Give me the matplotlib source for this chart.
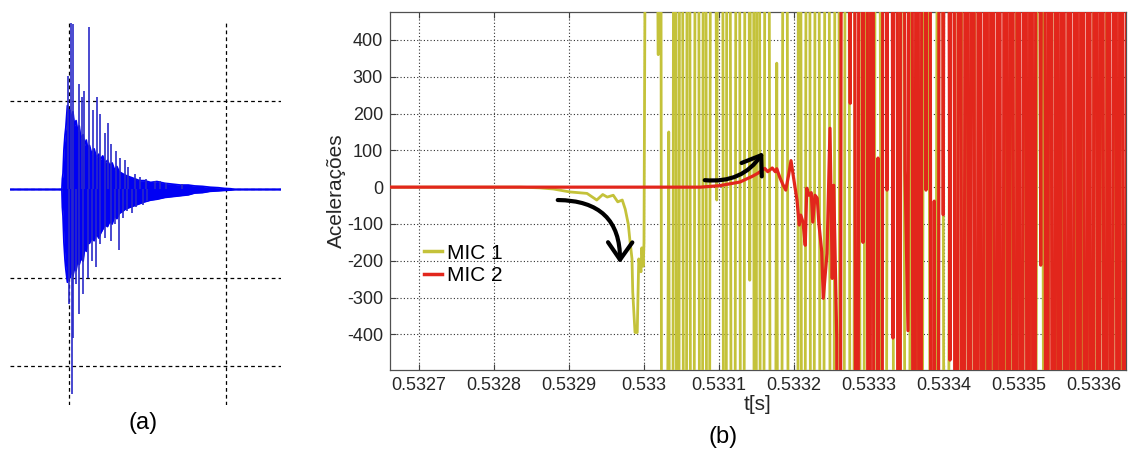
import matplotlib.pyplot as plt
import numpy as np

plt.rcParams['font.family'] = ['Liberation Sans', 'DejaVu Sans']

# ---- (a) free decay: envelope of the dense response and its isolated peaks
A_ENV_T = [0.62, 0.955, 0.958, 0.962, 0.968, 0.975, 0.98, 0.99, 1.0, 1.006, 1.015,
           1.025, 1.035, 1.045, 1.055, 1.065, 1.075, 1.09, 1.10, 1.11, 1.12, 1.13,
           1.145, 1.16, 1.175, 1.19, 1.20, 1.215, 1.23, 1.245, 1.26, 1.275, 1.29,
           1.305, 1.32, 1.34, 1.36, 1.39, 1.42, 1.45, 1.48, 1.52, 1.56, 1.61, 1.66,
           1.71, 1.76, 1.80, 1.85, 1.90, 1.95, 1.99, 2.03, 2.06, 2.36]
A_ENV_HI = [0, 0, 0.12, 0.18, 0.45, 0.62, 0.70, 0.95, 0.85, 0.90, 0.78,
            0.88, 0.72, 0.78, 0.66, 0.72, 0.58, 0.62, 0.50, 0.56, 0.45, 0.50,
            0.40, 0.46, 0.36, 0.40, 0.34, 0.38, 0.30, 0.33, 0.27, 0.30, 0.22,
            0.26, 0.20, 0.18, 0.16, 0.14, 0.12, 0.10, 0.10, 0.08, 0.09, 0.07, 0.06,
            0.05, 0.05, 0.04, 0.035, 0.025, 0.02, 0.012, 0.008, 0, 0]
A_ENV_LO = [0, 0, -0.20, -0.30, -0.60, -0.80, -0.90, -1.05, -0.95, -1.0, -0.90,
            -0.98, -0.88, -0.92, -0.80, -0.85, -0.78, -0.81, -0.65, -0.70, -0.60, -0.61,
            -0.55, -0.58, -0.50, -0.55, -0.50, -0.45, -0.40, -0.42, -0.36, -0.39, -0.30,
            -0.33, -0.27, -0.25, -0.22, -0.20, -0.18, -0.16, -0.14, -0.12, -0.11, -0.09, -0.08,
            -0.07, -0.06, -0.04, -0.035, -0.02, -0.015, -0.01, -0.006, 0, 0]

A_UP_T = [0.996, 1.011, 1.028, 1.064, 1.081, 1.096, 1.13, 1.151, 1.18, 1.20, 1.23,
          1.25, 1.27, 1.30, 1.325, 1.357, 1.378, 1.42, 1.45, 1.49, 1.55, 1.58, 1.62, 1.72]
A_UP_V = [1.28, 1.88, 1.87, 1.20, 1.05, 1.12, 1.84, 0.90, 1.05, 0.86, 0.64,
          0.75, 0.52, 0.44, 0.36, 0.33, 0.25, 0.18, 0.14, 0.12, 0.10, 0.10, 0.07, 0.06]
A_DN_T = [1.002, 1.017, 1.028, 1.045, 1.066, 1.09, 1.123, 1.145, 1.17, 1.197, 1.23,
          1.265, 1.29, 1.32, 1.346, 1.37, 1.40, 1.43, 1.47, 1.50]
A_DN_V = [-1.30, -2.32, -1.68, -1.07, -1.41, -1.18, -1.0, -0.81, -0.88, -0.62, -0.55,
          -0.58, -0.39, -0.69, -0.32, -0.24, -0.27, -0.20, -0.17, -0.13]

# ---- (b) accelerations, time in microseconds after T0
T0 = 0.5327
MIC1_US = [-39, 135, 161, 179, 201, 224, 237, 245, 251, 259, 265, 271, 275, 279,
           281, 284, 285, 288, 291, 293, 296, 297, 299, 300, 308, 319, 321, 325,
           333, 337, 341, 345, 349, 355, 359, 364, 371, 376, 381, 385, 391, 397,
           403, 408, 412, 419, 425, 431, 437, 441, 445, 448, 452, 457, 464, 471,
           477, 481, 488, 495, 504, 507, 512, 519, 524, 531, 537, 544, 551, 557,
           564, 571, 577, 584, 591, 597, 604, 611, 620, 628, 636, 643, 651, 659,
           668, 676, 685, 695, 703, 711, 719, 727, 736, 745, 753, 761, 769, 777,
           785, 793, 801, 811, 819, 828, 836, 844, 853, 861, 871, 879, 888, 896,
           904, 913, 921, 931, 939, 948]
MIC1_VAL = [0, 0, -2, -5, -13, -17, -35, -20, -27, -22, -40, -35, -60, -100,
            -140, -195, -285, -395, -395, -195, -230, -165, -215, -150, 4000, 360, 4000, -4000,
            150, -4000, 4000, -4000, 4000, -4000, 4000, -4000, 4000, -4000, 4000, -4000, 4000, -35,
            4000, -4000, 4000, -4000, 4000, -4000, 4000, -253, 4000, -4000, 4000, -4000, 4000, -4000,
            337, -4000, 4000, -4000, -4000, 4000, -4000, 4000, -4000, 4000, -4000, 4000, -4000, 4000,
            -4000, 4000, -4000, 4000, -4000, 4000, -4000, 4000, -4000, 4000, -4000, 4000, -4000, 4000,
            -4000, 4000, -4000, 4000, -4000, 4000, -4000, 4000, -4000, 4000, -4000, 4000, -4000, 4000,
            -4000, 4000, -4000, 4000, -4000, 4000, -4000, 4000, -4000, 4000, -4000, 4000, -4000, 4000,
            -4000, 4000, -4000, 4000, -4000, 4000]

MIC2_US = [-39, 375, 401, 428, 445, 452, 461, 465, 471, 475, 477, 481, 485, 489,
           493, 496, 500, 504, 507, 509, 512, 515, 517, 520, 523, 525, 528, 531,
           533, 537, 539, 544, 548, 551, 553, 557, 560, 565, 575, 579, 584, 588,
           592, 596, 600, 604, 608, 612, 616, 620, 624, 628, 632, 636, 640, 644,
           648, 652, 656, 660, 664, 668, 672, 676, 680, 684, 687, 691, 695, 699,
           703, 708, 712, 716, 721, 725, 730, 734, 738, 743, 747, 751, 756, 760,
           764, 769, 773, 777, 782, 786, 790, 795, 799, 803, 808, 812, 816, 820,
           824, 829, 833, 837, 841, 846, 850, 854, 858, 863, 867, 871, 876, 880,
           884, 889, 893, 897, 902, 906, 910, 915, 919, 923, 928, 932, 936, 941, 945]
MIC2_VAL = [0, 0, 4, 14, 30, 38, 51, 42, 52, 42, 50, 27, 8, -8,
            35, 72, 18, -35, -103, -76, -95, -158, -3, -22, -15, -95, -22, -30,
            -95, -176, -302, -180, 160, -248, 5, -410, -4000, 4000, 228, 4000, -4000, 4000,
            -150, 4000, -4000, 4000, -4000, 79, -4000, 4000, -8, 4000, -410, 4000, -4000, 4000,
            46, -390, 4000, -4000, 4000, -4000, 4000, -8, 4000, -4000, -38, -4000, 4000, -75,
            4000, -470, 4000, -4000, 4000, -4000, 4000, -4000, 4000, -4000, 4000, -4000, 4000, -4000,
            4000, -4000, 4000, -4000, 4000, -4000, 4000, -4000, 4000, -4000, 4000, -4000, 4000, -4000,
            4000, -212, 4000, -4000, 4000, -4000, 4000, -4000, 4000, -4000, 4000, -4000, 4000, -4000,
            4000, -4000, 4000, -4000, 4000, -4000, 4000, -4000, 4000, -4000, 4000, -4000, 4000, -4000, 4000]

Y_TICKS = [-400, -300, -200, -100, 0, 100, 200, 300, 400]
X_TICKS_US = [0, 100, 200, 300, 400, 500, 600, 700, 800, 900]

YELLOW = '#c4c23a'
RED = '#e2261c'
TXT = '#262626'

fig = plt.figure(figsize=(11.31, 4.53), dpi=100)

# ---------------- (a)
ax_a = fig.add_axes([0.0088, 0.106, 0.2396, 0.850])
blue = '#0000f4'
ax_a.fill_between(A_ENV_T, A_ENV_LO, A_ENV_HI, color=blue, lw=0, zorder=3)
ax_a.plot(A_ENV_T, A_ENV_HI, color=blue, lw=1.3, zorder=3)
ax_a.plot(A_ENV_T, A_ENV_LO, color=blue, lw=1.3, zorder=3)
ax_a.vlines(A_UP_T, 0, A_UP_V, color='#2a2ac8', lw=1.2, zorder=3)
ax_a.vlines(A_DN_T, 0, A_DN_V, color='#2a2ac8', lw=1.2, zorder=3)
ax_a.set_xlim(0.624, 2.35)
ax_a.set_ylim(-2.44, 1.92)
ax_a.set_xticks([1, 2])
ax_a.set_yticks([-2, -1, 0, 1])
ax_a.grid(True, color='k', ls=(0, (3, 2.5)), lw=0.9, zorder=1)
ax_a.tick_params(length=0, labelbottom=False, labelleft=False)
for s in ax_a.spines.values():
    s.set_visible(False)

# ---------------- (b)
ax_b = fig.add_axes([0.3448, 0.1832, 0.6508, 0.7903])
t1 = T0 + np.array(MIC1_US) * 1e-6
t2 = T0 + np.array(MIC2_US) * 1e-6
ax_b.plot(t1, MIC1_VAL, color=YELLOW, lw=2.0, label='MIC 1', zorder=3)
ax_b.plot(t2, MIC2_VAL, color=RED, lw=2.3, label='MIC 2', zorder=4)

ax_b.set_xlim(T0 - 38.7e-6, T0 + 942.7e-6)
ax_b.set_ylim(-497, 476)
xt = [T0 + u * 1e-6 for u in X_TICKS_US]
ax_b.set_xticks(xt)
ax_b.set_xticklabels([f'{v:.4f}'.rstrip('0') for v in xt])
ax_b.set_yticks(Y_TICKS)
ax_b.set_yticklabels([str(v) for v in Y_TICKS])
ax_b.tick_params(direction='in', length=4, width=0.8, colors='#404040',
                 labelcolor=TXT, labelsize=13, top=True, right=True, pad=5)
ax_b.grid(True, color='#303030', ls=(0, (1, 2)), lw=0.8, zorder=1)
for s in ax_b.spines.values():
    s.set_color('#505050')
    s.set_linewidth(0.9)

ax_b.set_xlabel('t[s]', fontsize=15, color=TXT, labelpad=1)
ax_b.set_ylabel('Acelerações', fontsize=15, color=TXT, labelpad=1)

leg = ax_b.legend(loc='upper left', bbox_to_anchor=(0.035, 0.376), frameon=False,
                  fontsize=15, handlelength=0.85, handletextpad=0.25,
                  labelspacing=0.15, borderaxespad=0)
for h in leg.get_lines():
    h.set_linewidth(2.5)

# arrows marking the onset of each signal
arrow = dict(arrowstyle='->,head_length=0.5,head_width=0.35', lw=3, color='k',
             shrinkA=0, shrinkB=0, mutation_scale=25)
ax_b.annotate('', xy=(T0 + 268e-6, -207), xytext=(T0 + 185e-6, -35),
              arrowprops=dict(arrow, connectionstyle='arc3,rad=-0.5'), zorder=6)
ax_b.annotate('', xy=(T0 + 459e-6, 95), xytext=(T0 + 381e-6, 19),
              arrowprops=dict(arrow, connectionstyle='arc3,rad=0.3'), zorder=6)

fig.text(143 / 1131, 1 - 423 / 453, '(a)', ha='center', va='center', fontsize=17, color='k')
fig.text(723 / 1131, 1 - 437 / 453, '(b)', ha='center', va='center', fontsize=17, color='k')

fig.savefig('out.png', dpi=100)
